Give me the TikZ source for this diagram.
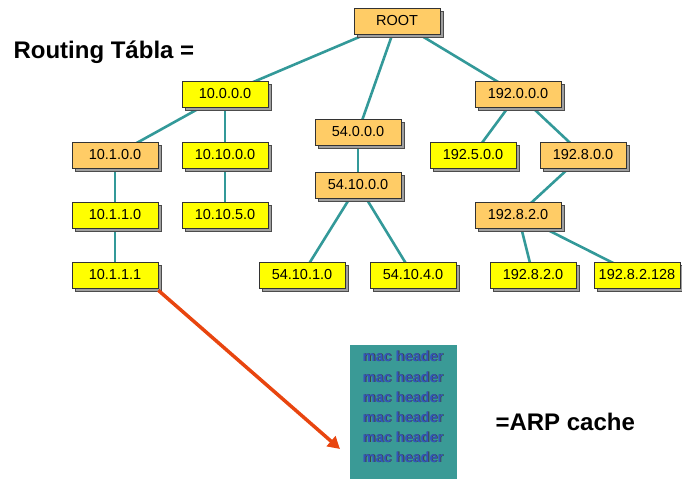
\documentclass[tikz,border=0pt]{standalone}
\usepackage{fontspec}
\setmainfont{Liberation Sans}
\usetikzlibrary{arrows.meta}
\pgfdeclarelayer{bg}
\pgfsetlayers{bg,main}
\definecolor{boxorange}{HTML}{FFCC66}
\definecolor{boxyellow}{HTML}{FFFF00}
\definecolor{linkteal}{HTML}{339999}
\definecolor{cacheteal}{HTML}{3A9A96}
\definecolor{macblue}{HTML}{3355BB}
\definecolor{arrowred}{HTML}{E8450F}
\tikzset{
  netbox/.style={draw=black!80, line width=0.6pt, minimum width=86pt, minimum height=26pt,
    inner sep=0pt, font=\fontsize{14.5}{14.5}\selectfont,
    preaction={draw=black!70, fill=gray!75, line width=0.6pt,
      transform canvas={xshift=3pt, yshift=-3pt}}},
  inner/.style={netbox, fill=boxorange},
  leaf/.style={netbox, fill=boxyellow},
  link/.style={draw=linkteal, line width=2.6pt},
  macline/.style={font=\bfseries\fontsize{14.5}{14.5}\selectfont, text=macblue},
  macshade/.style={font=\bfseries\fontsize{14.5}{14.5}\selectfont, text=black!75},
  caption/.style={font=\bfseries\fontsize{24}{24}\selectfont, anchor=west},
}
\begin{document}
\begin{tikzpicture}[x=1pt,y=-1pt]
\useasboundingbox (0,0) rectangle (682,479);

% routing tree nodes
\node[inner] (root) at (397,21) {ROOT};
\node[leaf]  (n10)   at (225,94)  {10.0.0.0};
\node[inner] (n54)   at (358,132) {54.0.0.0};
\node[inner] (n192)  at (518,94)  {192.0.0.0};
\node[inner] (n101)  at (115,155) {10.1.0.0};
\node[leaf]  (n1010) at (225,155) {10.10.0.0};
\node[leaf]  (n1925) at (473,155) {192.5.0.0};
\node[inner] (n1928) at (583,155) {192.8.0.0};
\node[inner] (n5410) at (358,185) {54.10.0.0};
\node[leaf]  (n1011) at (115,215) {10.1.1.0};
\node[leaf]  (n10105) at (225,215) {10.10.5.0};
\node[inner] (n19282) at (518,215) {192.8.2.0};
\node[leaf]  (h10111) at (115,275) {10.1.1.1};
\node[leaf]  (n54101) at (302,275) {54.10.1.0};
\node[leaf]  (n54104) at (413,275) {54.10.4.0};
\node[leaf]  (n192820) at (533,275) {192.8.2.0};
\node[leaf]  (n1928128) at (637,275) {192.8.2.128};

% tree links, drawn behind the boxes
\begin{pgfonlayer}{bg}
\draw[link] (root.center) -- (n10.center);
\draw[link] (root.center) -- (n54.center);
\draw[link] (root.center) -- (n192.center);
\draw[link] (n10.center) -- (n101.center);
\draw[link] (n10.center) -- (n1010.center);
\draw[link] (n101.center) -- (n1011.center);
\draw[link] (n1011.center) -- (h10111.center);
\draw[link] (n1010.center) -- (n10105.center);
\draw[link] (n54.center) -- (n5410.center);
\draw[link] (n5410.center) -- (n54101.center);
\draw[link] (n5410.center) -- (n54104.center);
\draw[link] (n192.center) -- (n1925.center);
\draw[link] (n192.center) -- (n1928.center);
\draw[link] (n1928.center) -- (n19282.center);
\draw[link] (n19282.center) -- (n192820.center);
\draw[link] (n19282.center) -- (n1928128.center);
\end{pgfonlayer}

% ARP cache block
\node[fill=cacheteal, minimum width=107pt, minimum height=134pt, inner sep=0pt,
      anchor=north west] (cache) at (350,345) {};
\foreach \i/\yy in {1/356,2/377,3/397,4/417,5/437,6/457}{
  \node[macshade] (macs\i) at (403.8,\yy+0.8) {mac header};
  \node[macline] (mac\i) at (403,\yy) {mac header};
}
\coordinate (arrowend) at (340,449);
\draw[arrowred, line width=3.5pt, -{Triangle[length=12pt,width=13pt]}]
  (h10111.south east) ++(0,2) coordinate (arrowstart) -- (arrowend);

% captions
\node[caption] (rtitle) at (10,52) {Routing Tábla =};
\node[caption] (arptitle) at (492,422) {=ARP cache};
\end{tikzpicture}
\end{document}
